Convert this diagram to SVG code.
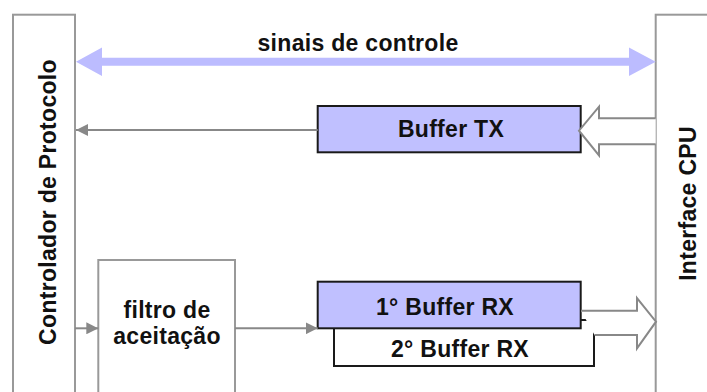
<svg xmlns="http://www.w3.org/2000/svg" width="707" height="392" viewBox="0 0 707 392">
<style>
.frame{fill:#ffffff;stroke:#999999;stroke-width:2}
.buf{fill:#c0c0ff;stroke:#1a1a1a;stroke-width:2}
.buf2{fill:#ffffff;stroke:#1a1a1a;stroke-width:2}
.t{font-family:"Liberation Sans",Arial,sans-serif;font-weight:bold;font-size:23px;letter-spacing:0.3px;fill:#111111;text-anchor:middle}
.ln{stroke:#888888;stroke-width:2;fill:none}
.hollow{fill:#ffffff;stroke:#888888;stroke-width:2;stroke-linejoin:miter}
</style>
<defs>
<marker id="ah" markerWidth="12" markerHeight="12" refX="12" refY="6" orient="auto" markerUnits="userSpaceOnUse">
<path d="M0,0 L12,6 L0,12 Z" fill="#888888"/>
</marker>
</defs>
<rect width="707" height="392" fill="#ffffff"/>
<g id="controlador">
<rect class="frame" x="13" y="14.7" width="62" height="400"/>
<text class="t" transform="translate(55.5,202) rotate(-90)">Controlador de Protocolo</text>
</g>
<g id="interface">
<rect class="frame" x="655.7" y="14.7" width="80" height="400"/>
<text class="t" transform="translate(696,203.5) rotate(-90)">Interface CPU</text>
</g>
<g id="filtro">
<rect class="frame" x="98.3" y="260" width="136.7" height="160"/>
<text class="t" x="167" y="318">filtro de</text>
<text class="t" x="167" y="344">aceitação</text>
</g>
<g id="buffer-tx">
<rect class="buf" x="317.7" y="106" width="263" height="46.3"/>
<text class="t" x="451" y="136.7">Buffer TX</text>
</g>
<g id="buffer-rx2">
<rect class="buf2" x="334" y="320" width="260" height="46"/>
<text class="t" x="460" y="356.7">2° Buffer RX</text>
</g>
<g id="buffer-rx1">
<rect class="buf" x="317.7" y="281.7" width="263" height="46.6"/>
<text class="t" x="445" y="315">1° Buffer RX</text>
</g>
<g id="connectors">
<g id="sinais">
<path d="M102,57.7 L629,57.7 L629,47.5 L655.7,61.7 L629,76 L629,65.7 L102,65.7 L102,76 L76,61.7 L102,47.5 Z" fill="#bcbcff"/>
<text class="t" x="358" y="51">sinais de controle</text>
</g>
<line class="ln" x1="317.7" y1="130" x2="76" y2="130" marker-end="url(#ah)"/>
<line class="ln" x1="75" y1="328.3" x2="98.3" y2="328.3" marker-end="url(#ah)"/>
<line class="ln" x1="235" y1="328.3" x2="317.7" y2="328.3" marker-end="url(#ah)"/>
<path class="hollow" d="M655.7,118.3 L599,118.3 L599,106.7 L579,130.7 L599,155.5 L599,144.3 L655.7,144.3"/>
<path class="hollow" d="M581,310.7 L637,310.7 L637,298 L656,321.7 L637,348.3 L637,335 L594.5,335"/>
</g>
</svg>
